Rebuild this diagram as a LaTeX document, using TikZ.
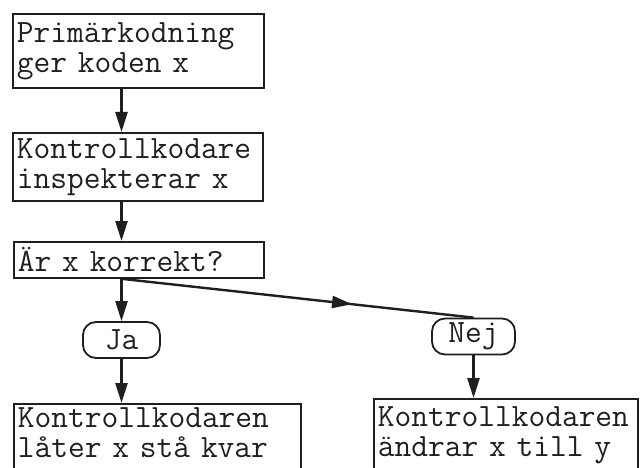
\documentclass[tikz,border=0pt]{standalone}
\usepackage{tikz}
\usetikzlibrary{arrows.meta,decorations.markings}
\definecolor{ink}{rgb}{0.12, 0.12, 0.12}

\begin{document}
\begin{tikzpicture}[x=1pt,y=-1pt,
  font=\ttfamily\fontsize{32.5}{30}\selectfont, text=ink,
  box/.style={draw=ink, line width=1.8pt, anchor=north west, inner xsep=4pt, inner ysep=2pt, align=left},
  svar/.style={draw=ink, line width=1.8pt, rounded corners=13pt, minimum height=36pt, inner sep=0pt},
  flow/.style={draw=ink, line width=2.4pt, -{Triangle[length=20pt,width=12pt]}},
  flowmid/.style={draw=ink, line width=2.4pt, postaction={decorate},
    decoration={markings, mark=at position 0.655 with {\arrow{Triangle[length=20pt,width=12pt]}}}}]
\path[use as bounding box] (0,0) rectangle (643,468);
\clip (0,0) rectangle (643,468);
%\draw [very thin, gray] (0,0) grid [step=50] (643,468);
\node[box, text width=243pt, minimum height=74pt] (prim) at (12,13) {Primärkodning\\ger koden x};
\node[box, text width=242pt, minimum height=68pt] (insp) at (12,132) {Kontrollkodare\\inspekterar x};
\node[box, text width=242pt, minimum height=36pt] (fraga) at (13,241) {Är x korrekt?};
\node[svar, minimum width=77pt] (ja) at (121.5,340) {Ja};
\node[svar, minimum width=83pt] (nej) at (473.5,336.5) {Nej};
% strut line keeps the open bottom below the page edge
\node[box, text width=279pt, inner ysep=4pt] (kvar) at (13,403) {Kontrollkodaren\\låter x stå kvar\\\strut};
\node[box, text width=256pt, inner ysep=8pt] (andra) at (373,398) {Kontrollkodaren\\ändrar x till y\\\strut};
\draw[flow] (prim.south -| ja.north) -- (insp.north -| ja.north);
\draw[flow] (insp.south -| ja.north) -- (fraga.north -| ja.north);
\draw[flow] (fraga.south -| ja.north) -- (ja.north);
\draw[flowmid] (fraga.south -| ja.north) -- (nej.north);
\draw[flow] (ja.south) -- (ja.south |- kvar.north);
\draw[flow] (nej.south) -- (nej.south |- andra.north);
\end{tikzpicture}
\end{document}
